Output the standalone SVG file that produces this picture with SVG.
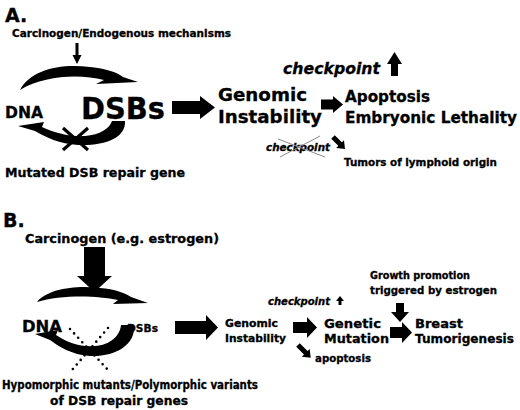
<svg xmlns="http://www.w3.org/2000/svg" width="520" height="410" viewBox="0 0 520 410">
<style>
text{font-family:"DejaVu Sans","Liberation Sans",sans-serif;font-weight:bold;fill:#000;stroke:#000;stroke-width:0.3}
.it{font-style:italic}
.arr{fill:#000;stroke:none}
.cross{stroke:#000;stroke-width:3.2;fill:none}
.strike{stroke:#8a8a8a;stroke-width:1;fill:none}
.dots{stroke:#000;stroke-width:2.6;stroke-linecap:round;stroke-dasharray:0 6;fill:none}
</style>
<rect width="520" height="410" fill="#fff"/>
<g id="labels">
<text x="5" y="22" font-size="19">A.</text>
<text x="3" y="227" font-size="19">B.</text>
</g>
<g id="A-carcinogen"><text x="12" y="37" font-size="10.5" textLength="219" lengthAdjust="spacingAndGlyphs">Carcinogen/Endogenous mechanisms</text></g>
<g id="A-dna"><text x="5" y="118" font-size="15.5" textLength="38" lengthAdjust="spacingAndGlyphs">DNA</text></g>
<g id="A-dsbs"><text x="81" y="119" font-size="30" textLength="84" lengthAdjust="spacingAndGlyphs">DSBs</text></g>
<g id="A-mutated"><text x="5" y="177" font-size="13" textLength="180" lengthAdjust="spacingAndGlyphs">Mutated DSB repair gene</text></g>
<g id="A-genomic">
<text x="218" y="101" font-size="18.5" textLength="89" lengthAdjust="spacingAndGlyphs">Genomic</text>
<text x="218" y="123" font-size="18.5" textLength="104" lengthAdjust="spacingAndGlyphs">Instability</text>
</g>
<g id="A-checkpoint"><text class="it" x="283" y="74" font-size="15" textLength="97" lengthAdjust="spacingAndGlyphs">checkpoint</text></g>
<g id="A-apoptosis">
<text x="345" y="102" font-size="15.3" textLength="85" lengthAdjust="spacingAndGlyphs">Apoptosis</text>
<text x="345" y="123" font-size="15.3" textLength="172" lengthAdjust="spacingAndGlyphs">Embryonic Lethality</text>
</g>
<g id="A-checkpoint-crossed">
<text class="it" x="266" y="151" font-size="10.3" textLength="64" lengthAdjust="spacingAndGlyphs">checkpoint</text>
<line class="strike" x1="278" y1="139" x2="325" y2="157"/>
<line class="strike" x1="280" y1="157" x2="320" y2="136"/>
</g>
<g id="A-tumors"><text x="344" y="166" font-size="10.3" textLength="153" lengthAdjust="spacingAndGlyphs">Tumors of lymphoid origin</text></g>

<g id="B-carcinogen"><text x="25" y="243" font-size="13" textLength="194" lengthAdjust="spacingAndGlyphs">Carcinogen (e.g. estrogen)</text></g>
<g id="B-dna"><text x="22" y="332" font-size="16" textLength="40" lengthAdjust="spacingAndGlyphs">DNA</text></g>
<g id="B-dsbs"><text x="127" y="332" font-size="11" textLength="31" lengthAdjust="spacingAndGlyphs">DSBs</text></g>
<g id="B-hypomorphic">
<text x="2" y="389" font-size="11.5" textLength="256" lengthAdjust="spacingAndGlyphs">Hypomorphic mutants/Polymorphic variants</text>
<text x="50" y="405" font-size="11.5" textLength="138" lengthAdjust="spacingAndGlyphs">of DSB repair genes</text>
</g>
<g id="B-genomic">
<text x="225" y="327" font-size="10.7" textLength="53" lengthAdjust="spacingAndGlyphs">Genomic</text>
<text x="225" y="342" font-size="10.7" textLength="61" lengthAdjust="spacingAndGlyphs">Instability</text>
</g>
<g id="B-checkpoint"><text class="it" x="268" y="305" font-size="10" textLength="62" lengthAdjust="spacingAndGlyphs">checkpoint</text></g>
<g id="B-apoptosis"><text x="315" y="362" font-size="10.8" textLength="56" lengthAdjust="spacingAndGlyphs">apoptosis</text></g>
<g id="B-mutation">
<text x="324" y="328" font-size="13" textLength="57" lengthAdjust="spacingAndGlyphs">Genetic</text>
<text x="324" y="343" font-size="13" textLength="65" lengthAdjust="spacingAndGlyphs">Mutation</text>
</g>
<g id="B-growth">
<text x="370" y="279" font-size="10.3" textLength="100" lengthAdjust="spacingAndGlyphs">Growth promotion</text>
<text x="370" y="294" font-size="10.3" textLength="127" lengthAdjust="spacingAndGlyphs">triggered by estrogen</text>
</g>
<g id="B-breast">
<text x="415" y="328" font-size="12.5" textLength="48" lengthAdjust="spacingAndGlyphs">Breast</text>
<text x="415" y="343" font-size="12.5" textLength="99" lengthAdjust="spacingAndGlyphs">Tumorigenesis</text>
</g>

<g id="connectors">
<polygon class="arr" points="75.5,43 78.5,43 78.5,55 81.5,55 77,64 72.5,55 75.5,55"/>
<path class="arr" d="M20,90 C30,70 60,63 90,67 C108,69 118,73 123,77 L138,82 L96,84 L104,80 C80,74 45,75 20,90 Z"/>
<path class="arr" d="M125,121 C126,138 105,146 78,145 C60,144 45,137 35,131 L18,126 L44,122 L42,127 C55,133 70,137 85,136 C100,135 110,128 112,121 Z"/>
<line class="cross" x1="63" y1="128" x2="88" y2="150"/>
<line class="cross" x1="88" y1="128" x2="63" y2="150"/>
<polygon class="arr" points="172,101 200,101 200,96 215,107.5 200,119 200,114 172,114"/>
<polygon class="arr" points="321,99.5 333,99.5 333,96 343,104.5 333,113 333,109.5 321,109.5"/>
<polygon class="arr" points="391,76 398,76 398,64 402,64 394.5,52 387,64 391,64"/>
<polygon class="arr" transform="translate(333,137) rotate(45)" points="0,-2.5 10,-2.5 10,-5.5 17,0 10,5.5 10,2.5 0,2.5"/>
<polygon class="arr" points="84,247 105,247 105,276 112,276 94.5,292 77,276 84,276"/>
<path class="arr" d="M37,302 C48,289 75,285 100,288 C115,289 125,293 131,297 L148,303 L113,304 L118,300 C95,295 60,295 37,302 Z"/>
<path class="arr" d="M134,325 C136,345 115,357 90,356 C72,355 58,346 50,340 L35,334 L58,330 L56,335 C68,343 80,347 95,346 C110,345 120,336 121,325 Z"/>
<line class="dots" x1="70" y1="329" x2="108" y2="370"/>
<line class="dots" x1="108" y1="328" x2="72" y2="370"/>
<polygon class="arr" points="175,321 206,321 206,315 218,327.5 206,340 206,334 175,334"/>
<polygon class="arr" points="293,322 307,322 307,317 317,327.5 307,338 307,333 293,333"/>
<polygon class="arr" points="338.5,305 341.5,305 341.5,301 344,301 340,296 336,301 338.5,301"/>
<polygon class="arr" transform="translate(298,345) rotate(45)" points="0,-2.5 11,-2.5 11,-5.5 18,0 11,5.5 11,2.5 0,2.5"/>
<polygon class="arr" points="390,327 402,327 402,322 412,332.5 402,343 402,338 390,338"/>
<polygon class="arr" points="396,303 404,303 404,312 409,312 400,322 391,312 396,312"/>
</g>
</svg>
